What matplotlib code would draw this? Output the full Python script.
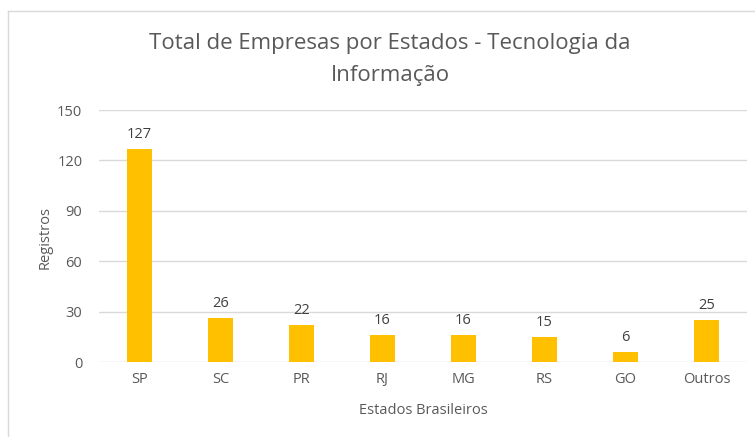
import numpy as np
import matplotlib
matplotlib.use("Agg")
import matplotlib.pyplot as plt
from matplotlib.lines import Line2D

# Data
estados = ["SP", "SC", "PR", "RJ", "MG", "RS", "GO", "Outros"]
registros = [127, 26, 22, 16, 16, 15, 6, 25]
yticks = [0, 30, 60, 90, 120, 150]

TEXT = "#595959"
GRID = "#D9D9D9"
BAR = "#FFC000"

plt.rcParams["font.family"] = ["Open Sans", "DejaVu Sans"]

W, H = 755, 437
fig = plt.figure(figsize=(W / 100, H / 100), dpi=100)
ax = fig.add_axes([99 / W, 1 - 362 / H, (747 - 99) / W, (362 - 110) / H])

x = np.arange(len(estados))
ax.bar(x, registros, width=0.32, color=BAR, zorder=3)
for xi, v in zip(x, registros):
    ax.annotate(str(v), (xi, v), xytext=(0, 5), textcoords="offset points",
                ha="center", va="bottom", fontsize=10.5, color="#404040")

ax.set_xlim(-0.5, len(estados) - 0.5)
ax.set_ylim(0, 150)
ax.set_yticks(yticks)
ax.set_xticks(x)
ax.set_xticklabels(estados)
ax.tick_params(length=0, labelsize=10.5, colors=TEXT, pad=7)
ax.tick_params(axis="y", pad=12)
ax.grid(axis="y", color=GRID, linewidth=1, zorder=0)
for s in ax.spines.values():
    s.set_visible(False)

ax.set_ylabel("Registros", fontsize=10.5, color=TEXT)
ax.yaxis.set_label_coords((45 - 99) / 648, 0.496)
ax.set_xlabel("Estados Brasileiros", fontsize=10.5, color=TEXT)
ax.xaxis.set_label_coords((423 - 99) / 648, (362 - 410) / 252)
ax.xaxis.label.set_va("center")
ax.yaxis.label.set_va("center")

fig.text(390 / W, 1 - 44 / H, "Total de Empresas por Estados - Tecnologia da",
         ha="center", va="center", fontsize=16, color=TEXT)
fig.text(390 / W, 1 - 75 / H, "Informação",
         ha="center", va="center", fontsize=16, color=TEXT)

# chart border (cropped at right and bottom)
fig.add_artist(Line2D([8 / W, 8 / W], [0, 1 - 11 / H], color=GRID, linewidth=1))
fig.add_artist(Line2D([8 / W, 1], [1 - 11 / H, 1 - 11 / H], color=GRID, linewidth=1))

fig.savefig("out.png", dpi=100, facecolor="white")
